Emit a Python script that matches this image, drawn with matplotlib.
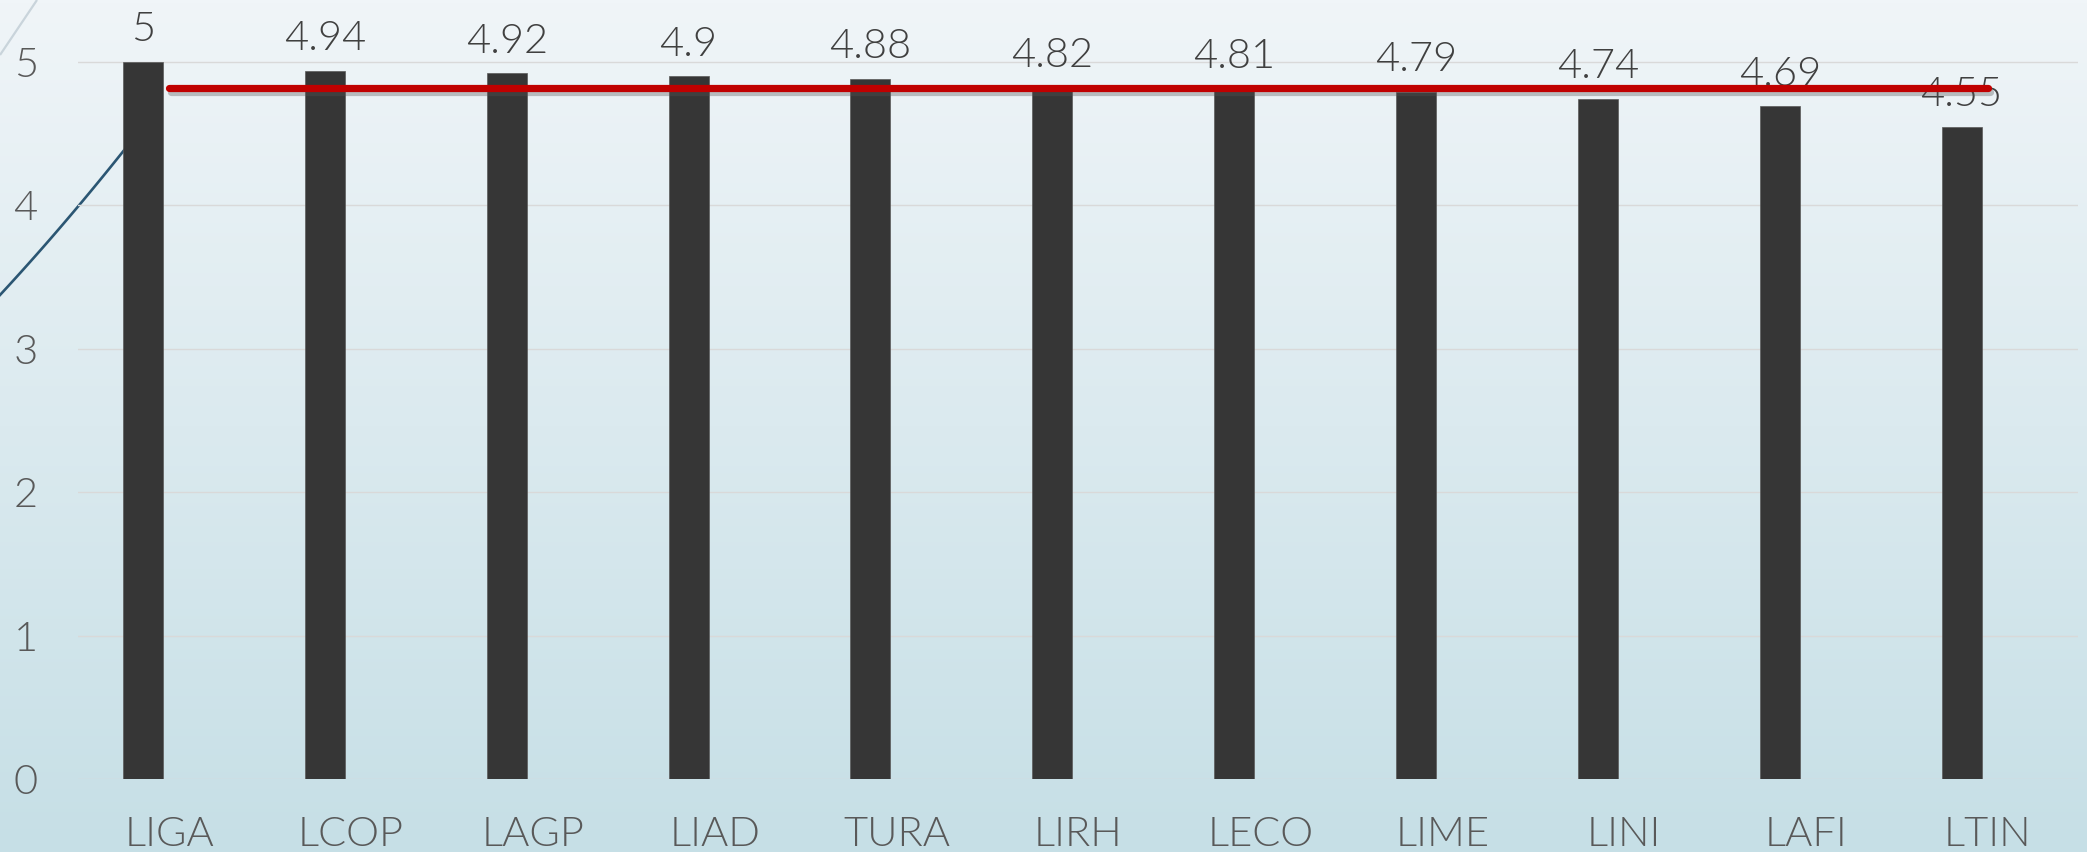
import numpy as np
import matplotlib
matplotlib.use("Agg")
import matplotlib.pyplot as plt
import matplotlib.patheffects as pe
from matplotlib.colors import LinearSegmentedColormap

categories = ["LIGA", "LCOP", "LAGP", "LIAD", "TURA", "LIRH", "LECO", "LIME", "LINI", "LAFI", "LTIN"]
values = [5, 4.94, 4.92, 4.9, 4.88, 4.82, 4.81, 4.79, 4.74, 4.69, 4.55]
value_labels = ["5", "4.94", "4.92", "4.9", "4.88", "4.82", "4.81", "4.79", "4.74", "4.69", "4.55"]
average = 4.82
y_ticks = [0, 1, 2, 3, 4, 5]

plt.rcParams['font.family'] = ['Lato', 'DejaVu Sans']
plt.rcParams['font.weight'] = 300

W, H = 2087, 852
fig = plt.figure(figsize=(W / 100, H / 100), dpi=100)

# background gradient
bg = fig.add_axes([0, 0, 1, 1])
cmap = LinearSegmentedColormap.from_list("bg", ["#f0f5f8", "#c6dfe6"])
grad = np.linspace(0, 1, 256).reshape(-1, 1)
bg.imshow(grad, aspect='auto', cmap=cmap, extent=[0, W, H, 0])
bg.set_xlim(0, W)
bg.set_ylim(H, 0)
bg.axis('off')
# decorative slide lines
bg.plot([0, 37], [55, 0], color="#c9d4db", lw=1.6, solid_capstyle='butt')
t = np.linspace(0, 1, 50)
cx = 0 + 140 * t
cy = 295 - 165 * t + 14 * t * (1 - t)
bg.plot(cx, cy, color="#2b5673", lw=1.9)

# main axes
left = 78 / W
right = 2078 / W
bottom = (H - 779) / H
ax = fig.add_axes([left, bottom, right - left, 1 - bottom])
ax.set_facecolor('none')
x = np.arange(len(categories))
ax.set_xlim(-0.357, len(categories) - 1 + 0.64)
ax.set_ylim(0, 779 / 143.4)

ax.bar(x, values, width=0.22, color="#363636", edgecolor="#5a5a5a", linewidth=0.5, zorder=3)

for xi, v, lab in zip(x, values, value_labels):
    ax.annotate(lab, (xi, v), xytext=(0, 15), textcoords='offset points',
                ha='center', va='baseline', fontsize=30, color="#404040", zorder=4)

cat_x = x + 0.144
ax.plot(cat_x, [average] * len(categories), color="#c00000", lw=5.2,
        solid_capstyle='round', zorder=5,
        path_effects=[pe.SimpleLineShadow(offset=(1.5, -3), shadow_color='#555555', alpha=0.35),
                      pe.Normal()])

ax.set_yticks(y_ticks)
ax.set_yticklabels([str(v) for v in y_ticks])
ax.set_xticks(cat_x)
ax.set_xticklabels(categories)
ax.tick_params(axis='y', length=0, pad=29, labelsize=30, labelcolor="#595959")
ax.tick_params(axis='x', length=0, pad=27, labelsize=30, labelcolor="#595959")
ax.grid(axis='y', color="#d9d9d9", lw=1.0, zorder=1)
ax.set_axisbelow(True)
for s in ax.spines.values():
    s.set_visible(False)

fig.savefig("out.png", dpi=100)
